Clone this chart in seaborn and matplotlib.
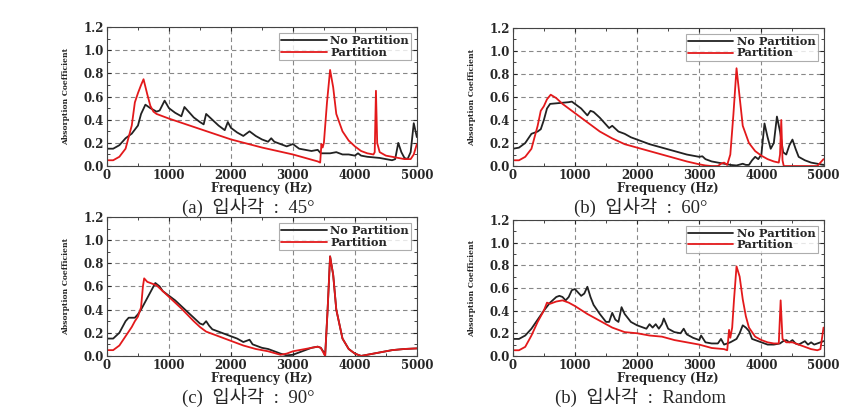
import numpy as np
import pandas as pd
import seaborn as sns
import matplotlib.pyplot as plt

# (a) 45 deg
a_f_np = [0, 100, 200, 300, 400, 500, 550, 620, 700, 800, 850, 930, 1000, 1100, 1200, 1250, 1300, 1400, 1500, 1560,
          1600, 1700, 1800, 1900, 1950, 2000, 2100, 2200, 2300, 2400, 2500, 2600, 2650, 2700, 2800, 2900, 3000, 3100,
          3200, 3300, 3400, 3450, 3500, 3600, 3700, 3800, 3900, 4000, 4050, 4100, 4200, 4400, 4500, 4600, 4650, 4700,
          4750, 4800, 4850, 4900, 4950, 5000]
a_np = [0.15, 0.15, 0.18, 0.24, 0.28, 0.35, 0.45, 0.53, 0.50, 0.47, 0.48, 0.565, 0.50, 0.46, 0.43, 0.51, 0.48, 0.42,
        0.38, 0.36, 0.45, 0.40, 0.35, 0.31, 0.38, 0.33, 0.29, 0.26, 0.30, 0.26, 0.23, 0.21, 0.24, 0.21, 0.19, 0.17,
        0.19, 0.15, 0.14, 0.13, 0.14, 0.11, 0.11, 0.11, 0.12, 0.10, 0.10, 0.09, 0.11, 0.09, 0.08, 0.07, 0.06, 0.05,
        0.06, 0.20, 0.12, 0.07, 0.06, 0.12, 0.37, 0.25]
a_f_p = [0, 100, 200, 300, 400, 450, 500, 550, 590, 650, 700, 750, 800, 1000, 1500, 2000, 2500, 3000, 3400, 3440,
         3460, 3480, 3500, 3550, 3600, 3650, 3700, 3800, 3900, 4000, 4100, 4200, 4300, 4320, 4340, 4360, 4400, 4500,
         4700, 4800, 4900, 4950, 5000]
a_p = [0.05, 0.05, 0.08, 0.15, 0.35, 0.55, 0.63, 0.70, 0.75, 0.62, 0.52, 0.47, 0.45, 0.41, 0.32, 0.23, 0.16, 0.10,
       0.04, 0.03, 0.19, 0.16, 0.20, 0.55, 0.83, 0.68, 0.45, 0.30, 0.22, 0.17, 0.13, 0.11, 0.10, 0.12, 0.65, 0.20,
       0.12, 0.09, 0.07, 0.06, 0.06, 0.10, 0.19]

# (b) 60 deg
b_f_np = [0, 100, 200, 300, 400, 450, 500, 550, 600, 700, 800, 900, 950, 1000, 1100, 1200, 1250, 1300, 1400, 1500,
          1550, 1600, 1700, 1800, 1900, 2000, 2200, 2400, 2600, 2800, 3000, 3050, 3100, 3200, 3300, 3400, 3500, 3600,
          3700, 3750, 3800, 3850, 3900, 3950, 4000, 4050, 4100, 4150, 4200, 4250, 4300, 4350, 4400, 4450, 4500, 4550,
          4600, 4700, 4800, 4900, 5000]
b_np = [0.15, 0.16, 0.20, 0.28, 0.30, 0.32, 0.40, 0.50, 0.54, 0.545, 0.55, 0.555, 0.56, 0.54, 0.50, 0.44, 0.48, 0.47,
        0.42, 0.36, 0.33, 0.35, 0.30, 0.28, 0.25, 0.23, 0.19, 0.16, 0.13, 0.10, 0.08, 0.085, 0.06, 0.04, 0.03, 0.02,
        0.01, 0.005, 0.02, 0.01, 0.01, 0.05, 0.08, 0.06, 0.10, 0.37, 0.25, 0.15, 0.20, 0.43, 0.30, 0.12, 0.10, 0.18,
        0.23, 0.15, 0.08, 0.05, 0.03, 0.02, 0.01]
b_f_p = [0, 100, 200, 300, 400, 450, 500, 550, 610, 700, 800, 900, 1000, 1200, 1400, 1600, 1800, 2000, 2200, 2400,
         2600, 2800, 3000, 3100, 3200, 3300, 3350, 3400, 3450, 3500, 3550, 3600, 3650, 3700, 3800, 3900, 4000, 4100,
         4200, 4280, 4300, 4320, 4340, 4360, 4500, 4700, 4900, 4950, 5000]
b_p = [0.05, 0.05, 0.08, 0.15, 0.35, 0.48, 0.52, 0.58, 0.62, 0.59, 0.54, 0.50, 0.46, 0.38, 0.30, 0.24, 0.19, 0.16,
       0.13, 0.10, 0.07, 0.04, 0.015, 0.005, 0.0, 0.0, 0.02, 0.03, 0.01, 0.10, 0.45, 0.85, 0.60, 0.35, 0.20, 0.13,
       0.09, 0.06, 0.04, 0.03, 0.10, 0.40, 0.05, 0.0, 0.0, 0.0, 0.0, 0.03, 0.06]

# (c) 90 deg
c_f_np = [0, 100, 200, 300, 350, 400, 450, 500, 550, 600, 700, 780, 850, 900, 1000, 1100, 1200, 1300, 1400, 1500,
          1550, 1600, 1650, 1700, 1800, 1900, 2000, 2100, 2200, 2300, 2350, 2400, 2500, 2600, 2700, 2800, 2900, 3000,
          3100, 3200, 3300, 3400, 3450, 3500, 3520, 3560, 3600, 3650, 3700, 3800, 3900, 4000, 4100, 4200, 4400, 4600,
          4800, 5000]
c_np = [0.15, 0.15, 0.20, 0.30, 0.33, 0.33, 0.33, 0.36, 0.40, 0.45, 0.55, 0.63, 0.60, 0.56, 0.52, 0.48, 0.43, 0.38,
        0.33, 0.28, 0.27, 0.30, 0.26, 0.23, 0.21, 0.19, 0.17, 0.15, 0.12, 0.14, 0.10, 0.09, 0.07, 0.06, 0.04, 0.02,
        0.005, 0.01, 0.03, 0.05, 0.07, 0.08, 0.07, 0.03, 0.0, 0.40, 0.86, 0.70, 0.40, 0.15, 0.06, 0.02, 0.0, 0.01,
        0.03, 0.05, 0.06, 0.065]
c_f_p = [0, 100, 200, 300, 400, 450, 500, 550, 580, 600, 650, 700, 800, 900, 1000, 1200, 1400, 1500, 1600, 1800,
         2000, 2200, 2400, 2600, 2800, 2900, 3000, 3200, 3400, 3450, 3500, 3520, 3560, 3600, 3650, 3700, 3800, 3900,
         4000, 4100, 4200, 4400, 4600, 4800, 5000]
c_p = [0.05, 0.05, 0.09, 0.17, 0.25, 0.30, 0.34, 0.42, 0.60, 0.67, 0.64, 0.63, 0.61, 0.56, 0.51, 0.41, 0.30, 0.25,
       0.21, 0.17, 0.13, 0.09, 0.06, 0.04, 0.01, 0.02, 0.04, 0.06, 0.08, 0.07, 0.02, 0.0, 0.40, 0.86, 0.70, 0.40,
       0.15, 0.06, 0.02, 0.0, 0.01, 0.03, 0.05, 0.06, 0.065]

# (d) random incidence
d_f_np = [0, 100, 200, 300, 400, 500, 600, 700, 750, 800, 850, 900, 950, 1000, 1050, 1100, 1150, 1200, 1250, 1300,
          1400, 1500, 1550, 1600, 1650, 1700, 1750, 1800, 1900, 2000, 2100, 2150, 2200, 2250, 2300, 2350, 2400, 2430,
          2500, 2600, 2700, 2750, 2800, 2900, 3000, 3030, 3100, 3200, 3300, 3350, 3400, 3500, 3600, 3650, 3700, 3750,
          3800, 3850, 3900, 4000, 4100, 4200, 4300, 4350, 4400, 4450, 4500, 4550, 4600, 4700, 4750, 4800, 4850, 4900,
          5000]
d_np = [0.15, 0.15, 0.18, 0.24, 0.32, 0.40, 0.47, 0.52, 0.53, 0.52, 0.49, 0.52, 0.58, 0.59, 0.56, 0.53, 0.55, 0.61,
        0.52, 0.45, 0.37, 0.30, 0.30, 0.38, 0.32, 0.30, 0.43, 0.37, 0.30, 0.27, 0.25, 0.24, 0.28, 0.25, 0.28, 0.24,
        0.28, 0.33, 0.24, 0.21, 0.20, 0.24, 0.19, 0.16, 0.14, 0.18, 0.12, 0.11, 0.11, 0.15, 0.10, 0.12, 0.15, 0.20,
        0.27, 0.25, 0.22, 0.15, 0.14, 0.12, 0.10, 0.10, 0.11, 0.13, 0.14, 0.12, 0.14, 0.11, 0.10, 0.13, 0.10, 0.12,
        0.10, 0.11, 0.13]
d_f_p = [0, 100, 200, 300, 400, 500, 550, 600, 700, 800, 900, 1000, 1200, 1400, 1600, 1800, 2000, 2200, 2400, 2600,
         2800, 3000, 3200, 3400, 3450, 3480, 3500, 3530, 3560, 3600, 3650, 3700, 3750, 3800, 3900, 4000, 4100, 4200,
         4280, 4310, 4340, 4400, 4500, 4600, 4700, 4800, 4900, 4950, 5000]
d_p = [0.05, 0.05, 0.08, 0.18, 0.30, 0.40, 0.47, 0.46, 0.48, 0.49, 0.47, 0.44, 0.37, 0.31, 0.25, 0.21, 0.20, 0.18,
       0.17, 0.14, 0.12, 0.10, 0.07, 0.06, 0.05, 0.23, 0.16, 0.25, 0.50, 0.79, 0.70, 0.50, 0.35, 0.25, 0.17, 0.14,
       0.12, 0.11, 0.11, 0.49, 0.15, 0.12, 0.12, 0.10, 0.08, 0.06, 0.05, 0.06, 0.25]

captions = ["(a)  입사각  :  45°", "(b)  입사각  :  60°", "(c)  입사각  :  90°", "(b)  입사각  :  Random"]
panels = [(a_f_np, a_np, a_f_p, a_p), (b_f_np, b_np, b_f_p, b_p),
          (c_f_np, c_np, c_f_p, c_p), (d_f_np, d_np, d_f_p, d_p)]

sns.set_style("ticks")
plt.rcParams["font.family"] = ["DejaVu Serif", "Noto Sans CJK KR"]
cap_font = ["Liberation Serif", "Noto Sans CJK KR", "DejaVu Sans"]

palette = {"No Partition": "#222222", "Partition": "#e3191b"}
fig = plt.figure(figsize=(8.49, 4.11), dpi=100)
rects = [[0.126, 0.596, 0.365, 0.338], [0.604, 0.596, 0.366, 0.336],
         [0.126, 0.134, 0.365, 0.338], [0.604, 0.134, 0.366, 0.331]]
cap_pos = [(0.292, 0.495), (0.755, 0.495), (0.292, 0.031), (0.755, 0.031)]

for rect, (f_np, v_np, f_p, v_p), cap, cp in zip(rects, panels, captions, cap_pos):
    ax = fig.add_axes(rect)
    df = pd.concat([
        pd.DataFrame({"freq": f_np, "val": v_np, "series": "No Partition"}),
        pd.DataFrame({"freq": f_p, "val": v_p, "series": "Partition"}),
    ])
    sns.lineplot(data=df, x="freq", y="val", hue="series", palette=palette, estimator=None,
                 sort=False, lw=1.3, ax=ax)
    ax.set_xlim(0, 5000)
    ax.set_ylim(0, 1.2)
    ax.set_xticks(np.arange(0, 5001, 1000))
    ax.set_yticks(np.arange(0, 1.21, 0.2))
    ax.set_xticks(np.arange(0, 5001, 500), minor=True)
    ax.set_yticks(np.arange(0, 1.21, 0.1), minor=True)
    ax.set_yticklabels([f"{v:.1f}" for v in np.arange(0, 1.21, 0.2)])
    ax.tick_params(which="both", direction="in", top=True, right=True, labelsize=8.5, pad=2)
    ax.tick_params(which="major", length=3)
    ax.tick_params(which="minor", length=2)
    for lab in ax.get_xticklabels() + ax.get_yticklabels():
        lab.set_fontweight("bold")
    ax.grid(True, which="major", ls=(0, (4, 3)), color="#888888", lw=0.8)
    for s in ax.spines.values():
        s.set_linewidth(0.8)
        s.set_color("#444444")
    ax.set_xlabel("Frequency (Hz)", fontsize=8.5, fontweight="bold", labelpad=0)
    ax.set_ylabel("Absorption Coefficient", fontsize=5.5, fontweight="bold", labelpad=10)
    leg = ax.legend(loc="upper right", frameon=True, fancybox=False, borderpad=0.2,
                    handlelength=4.0, labelspacing=0.05, handletextpad=0.3, borderaxespad=0.5,
                    prop={"weight": "bold", "size": 8.2})
    leg.get_frame().set_edgecolor("#999999")
    leg.get_frame().set_linewidth(0.8)
    fig.text(cp[0], cp[1], cap, ha="center", va="center", fontsize=13.5, family=cap_font)

fig.savefig("out.png", dpi=100)
